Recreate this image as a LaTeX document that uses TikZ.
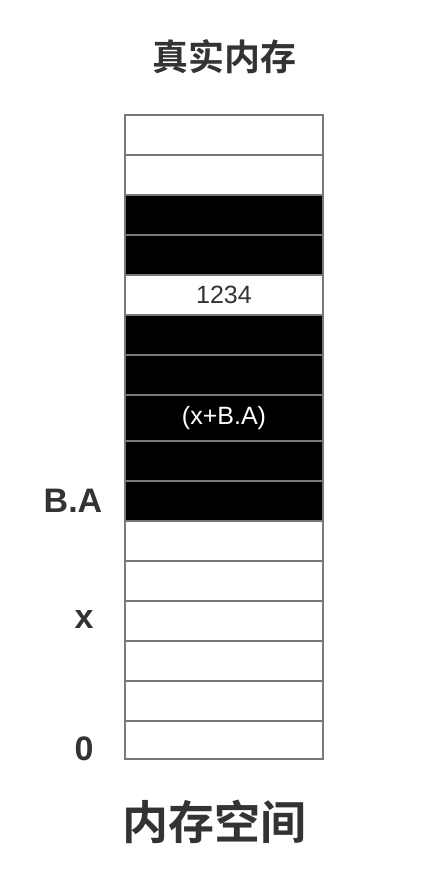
\documentclass[tikz,border=0pt]{standalone}
\usepackage{fontspec}
\setmainfont{Liberation Sans}
\newfontfamily\cjkfont{Noto Sans CJK SC}[BoldFont=* Bold]
\usetikzlibrary{positioning}
\definecolor{cellline}{HTML}{787878}
\definecolor{inktext}{HTML}{333333}

\begin{document}
\begin{tikzpicture}[
  x=1pt, y=-1pt,
  cell/.style={rectangle, draw=cellline, line width=2pt, minimum width=198pt,
               inner sep=0pt, font=\fontsize{25}{29}\selectfont},
  free/.style={cell, fill=white, text=inktext},
  used/.style={cell, fill=black, text=white},
  addr/.style={font=\bfseries\fontsize{34}{40}\selectfont, text=inktext,
               anchor=base, inner sep=0pt},
  heading/.style={font=\cjkfont\bfseries, text=inktext, anchor=base, inner sep=0pt}
]
  \fill[white] (0,0) rectangle (442,886);
  \useasboundingbox (0,0) rectangle (442,886);

  % memory cells, top to bottom
  \foreach \ya/\yb/\kind/\txt [count=\i] in {
      115/155/free/{}, 155/195/free/{}, 195/235/used/{}, 235/275/used/{},
      275/315/free/1234, 315/355/used/{}, 355/395/used/{}, 395/441/used/(x+B.A),
      441/481/used/{}, 481/521/used/{}, 521/561/free/{}, 561/601/free/{},
      601/641/free/{}, 641/681/free/{}, 681/721/free/{}, 721/759/free/{}}
    \node[\kind, minimum height=(\yb-\ya)*1pt] (cell\i) at (224, {(\ya+\yb)/2}) {\txt};

  \node[heading, font=\cjkfont\bfseries\fontsize{36}{40}\selectfont] (real) at (224,70) {真实内存};
  \node[heading, font=\cjkfont\bfseries\fontsize{46}{50}\selectfont] (space) at (214,839) {内存空间};

  % addresses
  \node[addr] (base) at (73,512) {B.A};
  \node[addr] (offset) at (84,628) {x};
  \node[addr] (zero) at (84,760) {0};
\end{tikzpicture}
\end{document}
